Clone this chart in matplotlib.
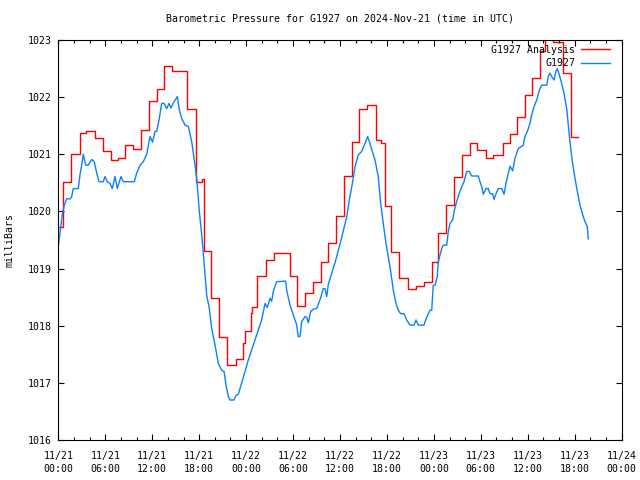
import matplotlib
matplotlib.use("Agg")
import matplotlib.pyplot as plt
from matplotlib.ticker import MultipleLocator

# ── Data (hours since 2024-11-21 00:00 UTC) ───────────────────────────────────

analysis_hours = [
    0.00, 0.66, 1.62, 2.71, 3.54, 4.63, 5.65, 6.73, 7.69, 8.52, 9.55, 10.57,
    11.59, 12.61, 13.51, 14.53, 16.51, 17.60, 18.36, 18.56, 19.51, 20.53,
    21.62, 22.71, 23.60, 23.86, 24.59, 24.75, 25.39, 26.48, 27.57, 29.55,
    30.50, 31.53, 32.55, 33.57, 34.53, 35.55, 36.45, 37.53, 38.49, 39.51,
    40.60, 41.24, 41.69, 42.58, 43.60, 44.63, 45.71, 46.73, 47.82, 48.52,
    49.55, 50.63, 51.59, 52.55, 53.51, 54.66, 55.55, 56.77, 57.73, 58.56,
    59.64, 60.54, 61.62, 62.26, 63.22, 64.49, 65.51, 66.47,
]
analysis_mb = [
    1019.72, 1020.51, 1021.00, 1021.38, 1021.40, 1021.29, 1021.05, 1020.90,
    1020.94, 1021.16, 1021.10, 1021.42, 1021.93, 1022.15, 1022.55, 1022.45,
    1021.80, 1020.52, 1020.57, 1019.31, 1018.48, 1017.81, 1017.32, 1017.42,
    1017.69, 1017.91, 1018.23, 1018.32, 1018.87, 1019.15, 1019.27, 1018.87,
    1018.34, 1018.58, 1018.76, 1019.12, 1019.44, 1019.92, 1020.62, 1021.22,
    1021.80, 1021.87, 1021.25, 1021.20, 1020.09, 1019.29, 1018.83, 1018.64,
    1018.69, 1018.76, 1019.12, 1019.63, 1020.11, 1020.60, 1020.99, 1021.19,
    1021.07, 1020.93, 1020.99, 1021.19, 1021.35, 1021.66, 1022.03, 1022.33,
    1022.81, 1023.05, 1022.97, 1022.42, 1021.31, 1021.31,
]

obs_hours = [
    0.00, 0.22, 0.51, 0.77, 1.07, 1.50, 1.71, 1.92, 2.56, 2.77, 2.99, 3.19,
    3.50, 3.83, 4.27, 4.60, 4.91, 5.20, 5.75, 5.97, 6.26, 6.61, 6.90, 7.25,
    7.54, 8.01, 8.31, 9.71, 10.02, 10.45, 10.86, 11.30, 11.72, 12.04, 12.36,
    12.58, 12.91, 13.21, 13.51, 13.85, 14.15, 14.40, 14.70, 15.04, 15.21,
    15.46, 15.77, 16.19, 16.61, 17.05, 17.47, 17.69, 18.02, 18.33, 18.62,
    18.96, 19.30, 19.60, 20.03, 20.45, 20.88, 21.18, 21.43, 21.73, 21.94,
    22.45, 22.71, 23.00, 23.44, 23.86, 24.28, 24.92, 25.56, 25.99, 26.42,
    26.71, 27.06, 27.27, 27.48, 27.91, 29.06, 29.19, 29.61, 30.03, 30.47,
    30.67, 30.89, 31.10, 31.53, 31.74, 31.95, 32.26, 32.59, 33.02, 33.44,
    33.87, 34.08, 34.30, 34.50, 34.94, 35.36, 35.91, 36.35, 36.86, 37.19,
    37.62, 37.92, 38.34, 38.77, 39.20, 39.54, 39.83, 40.13, 40.47, 40.89,
    41.20, 41.53, 41.88, 42.17, 42.48, 42.81, 43.16, 43.45, 43.76, 44.18,
    44.52, 44.95, 45.46, 45.71, 46.01, 46.73, 47.08, 47.50, 47.72, 47.92,
    48.14, 48.43, 48.56, 48.78, 49.00, 49.20, 49.64, 49.84, 50.06, 50.40,
    50.61, 50.91, 51.25, 51.55, 51.85, 52.19, 52.52, 52.83, 53.67, 53.89,
    54.11, 54.31, 54.66, 54.95, 55.17, 55.51, 55.68, 55.94, 56.23, 56.67,
    56.96, 57.21, 57.51, 57.73, 58.07, 58.36, 58.79, 59.42, 59.64, 59.94,
    60.28, 60.50, 60.79, 61.14, 61.47, 61.78, 62.42, 62.62, 62.84, 63.05,
    63.35, 63.60, 63.77, 64.02, 64.33, 64.62, 64.97, 65.18, 65.39, 65.69,
    66.03, 66.33, 66.67, 67.02, 67.31, 67.61, 67.73,
]
obs_mb = [
    1019.40, 1019.62, 1019.94, 1020.11, 1020.22, 1020.22, 1020.26, 1020.40,
    1020.40, 1020.64, 1020.81, 1021.00, 1020.81, 1020.81, 1020.91, 1020.87,
    1020.67, 1020.52, 1020.52, 1020.61, 1020.52, 1020.49, 1020.40, 1020.61,
    1020.40, 1020.61, 1020.52, 1020.52, 1020.67, 1020.81, 1020.87, 1021.00,
    1021.31, 1021.21, 1021.40, 1021.40, 1021.63, 1021.89, 1021.89, 1021.80,
    1021.89, 1021.81, 1021.90, 1021.97, 1022.01, 1021.78, 1021.63, 1021.51,
    1021.49, 1021.22, 1020.81, 1020.58, 1020.00, 1019.59, 1019.12, 1018.54,
    1018.30, 1017.95, 1017.66, 1017.34, 1017.22, 1017.20, 1016.96, 1016.76,
    1016.70, 1016.70, 1016.78, 1016.80, 1017.00, 1017.20, 1017.40, 1017.66,
    1017.92, 1018.10, 1018.39, 1018.32, 1018.48, 1018.43, 1018.60, 1018.77,
    1018.78, 1018.62, 1018.36, 1018.19, 1018.01, 1017.81, 1017.81, 1018.07,
    1018.16, 1018.15, 1018.05, 1018.25, 1018.29, 1018.30, 1018.45, 1018.65,
    1018.65, 1018.51, 1018.72, 1018.92, 1019.10, 1019.38, 1019.62, 1019.91,
    1020.20, 1020.52, 1020.78, 1020.99, 1021.05, 1021.19, 1021.31, 1021.19,
    1021.05, 1020.90, 1020.61, 1020.14, 1019.79, 1019.44, 1019.21, 1018.95,
    1018.62, 1018.39, 1018.27, 1018.21, 1018.21, 1018.10, 1018.01, 1018.01,
    1018.10, 1018.01, 1018.01, 1018.15, 1018.27, 1018.27, 1018.71, 1018.71,
    1018.86, 1019.12, 1019.24, 1019.35, 1019.41, 1019.41, 1019.65, 1019.79,
    1019.85, 1020.02, 1020.17, 1020.32, 1020.43, 1020.52, 1020.70, 1020.70,
    1020.62, 1020.62, 1020.52, 1020.43, 1020.30, 1020.40, 1020.40, 1020.31,
    1020.31, 1020.21, 1020.31, 1020.40, 1020.40, 1020.30, 1020.49, 1020.67,
    1020.79, 1020.71, 1020.93, 1021.10, 1021.16, 1021.31, 1021.40, 1021.54,
    1021.69, 1021.83, 1021.95, 1022.12, 1022.21, 1022.21, 1022.36, 1022.42,
    1022.36, 1022.30, 1022.45, 1022.50, 1022.39, 1022.24, 1022.07, 1021.80,
    1021.51, 1021.22, 1020.87, 1020.58, 1020.35, 1020.11, 1019.94, 1019.82,
    1019.73, 1019.52,
]

tick_hours = list(range(0, 73, 6))
tick_labels = [
    "11/21\n00:00", "11/21\n06:00", "11/21\n12:00", "11/21\n18:00",
    "11/22\n00:00", "11/22\n06:00", "11/22\n12:00", "11/22\n18:00",
    "11/23\n00:00", "11/23\n06:00", "11/23\n12:00", "11/23\n18:00",
    "11/24\n00:00",
]
y_ticks = [1016, 1017, 1018, 1019, 1020, 1021, 1022, 1023]

# ── Plot ──────────────────────────────────────────────────────────────────────

FS = 7.1
plt.rcParams["font.family"] = ["DejaVu Sans Mono"]
plt.rcParams["font.size"] = FS

fig = plt.figure(figsize=(6.4, 4.8), dpi=100)
ax = fig.add_axes([58.3 / 640, 40 / 480, 563.4 / 640, 400 / 480])

ax.plot(analysis_hours, analysis_mb, color="#ff0000", lw=1.0,
        drawstyle="steps-post", label="G1927 Analysis")
ax.plot(obs_hours, obs_mb, color="#0a80ff", lw=1.0, label="G1927")

ax.set_xlim(0, 72)
ax.set_ylim(1016, 1023)
ax.set_xticks(tick_hours)
ax.set_xticklabels(tick_labels, linespacing=1.3)
ax.xaxis.set_minor_locator(MultipleLocator(2))
ax.set_yticks(y_ticks)
ax.set_yticklabels([str(v) for v in y_ticks])

ax.tick_params(which="both", direction="in", top=True, right=True,
               width=0.8, labelsize=FS)
ax.tick_params(which="major", length=4.5)
ax.tick_params(which="minor", length=2.5)
ax.tick_params(axis="x", pad=8)
ax.tick_params(axis="y", pad=5)

for s in ax.spines.values():
    s.set_linewidth(0.8)

ax.set_title("Barometric Pressure for G1927 on 2024-Nov-21 (time in UTC)",
             fontsize=FS, pad=13)
ax.set_ylabel("milliBars", fontsize=FS, labelpad=9)

# legend sits a little in from the right edge, text to the left of the sample
ax.legend(loc="upper right", bbox_to_anchor=(0.979, 0.988),
          markerfirst=False, frameon=False, fontsize=FS,
          handlelength=2.9, handletextpad=0.6, labelspacing=0.35,
          borderaxespad=0.0, borderpad=0.0)

fig.savefig("out.png", dpi=100)
